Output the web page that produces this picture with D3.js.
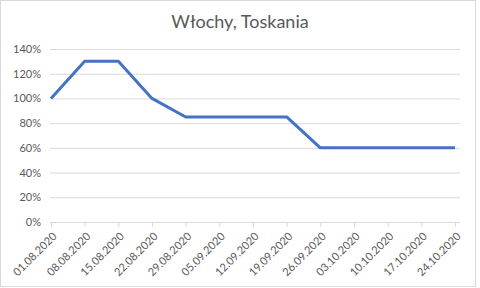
<!DOCTYPE html>
<html>
<head>
<meta charset="utf-8">
<script src="https://cdn.jsdelivr.net/npm/d3@7"></script>
<style>
  body { margin: 0; background: #fff; }
  #chart { width: 480px; height: 288px; }
  .axis text { fill: #595959; font-family: Lato, "Open Sans", sans-serif; font-size: 11px; }
  .axis .domain { stroke: none; }
</style>
</head>
<body>
<div id="chart"></div>
<script>
// chart data
var dates = ["01.08.2020", "08.08.2020", "15.08.2020", "22.08.2020", "29.08.2020", "05.09.2020",
    "12.09.2020", "19.09.2020", "26.09.2020", "03.10.2020", "10.10.2020", "17.10.2020", "24.10.2020"];
var values = [100, 130, 130, 100, 85, 85, 85, 85, 60, 60, 60, 60, 60];
var yTicks = [0, 20, 40, 60, 80, 100, 120, 140];
var title = "Włochy, Toskania";

var width = 480, height = 288;
var plotLeft = 51, plotRight = 455, plotTop = 49, plotBottom = 222;

var svg = d3.select("#chart")
    .append("svg")
    .attr("width", width)
    .attr("height", height);

// outer border
svg.append("rect")
    .attr("x", 0.5).attr("y", 0.5)
    .attr("width", width - 5).attr("height", height - 2)
    .attr("fill", "#fff")
    .attr("stroke", "#d9d9d9");

svg.append("text")
    .attr("x", 240)
    .attr("y", 28)
    .attr("text-anchor", "middle")
    .style("font-family", "Lato, 'Open Sans', sans-serif")
    .style("font-size", "18px")
    .style("fill", "#595959")
    .text(title);

var xScale = d3.scalePoint().domain(dates).range([plotLeft, plotRight]);
var yScale = d3.scaleLinear().domain([0, 140]).range([plotBottom, plotTop]);

// gridlines + y labels
var yAxis = d3.axisLeft(yScale)
    .tickValues(yTicks)
    .tickSize(-(plotRight - plotLeft + 6))
    .tickFormat(function(d) { return d + "%"; });

svg.append("g")
    .attr("class", "axis axis--y")
    .attr("transform", "translate(" + (plotLeft - 1) + ",0)")
    .call(yAxis)
    .call(function(g) {
        g.selectAll("line").attr("stroke", "#d9d9d9");
        g.selectAll("text").attr("x", -9);
    });

// x axis with small ticks under baseline
var xAxis = d3.axisBottom(xScale).tickSize(5).tickSizeOuter(0);

svg.append("g")
    .attr("class", "axis axis--x")
    .attr("transform", "translate(0," + plotBottom + ")")
    .call(xAxis)
    .call(function(g) {
        g.selectAll("line").attr("stroke", "#d9d9d9");
        g.selectAll("text")
            .attr("text-anchor", "end")
            .attr("dy", null)
            .attr("y", 0)
            .attr("transform", "translate(6,15) rotate(-45)");
    });

svg.append("line")
    .attr("x1", plotLeft - 1).attr("x2", plotRight + 3)
    .attr("y1", plotBottom + 0.5).attr("y2", plotBottom + 0.5)
    .attr("stroke", "#d9d9d9");

var line = d3.line()
    .x(function(d, i) { return xScale(dates[i]); })
    .y(function(d) { return yScale(d); });

svg.append("path")
    .datum(values)
    .attr("d", line)
    .attr("fill", "none")
    .attr("stroke", "#4472c4")
    .attr("stroke-width", 3)
    .attr("stroke-linejoin", "round");
</script>
</body>
</html>
